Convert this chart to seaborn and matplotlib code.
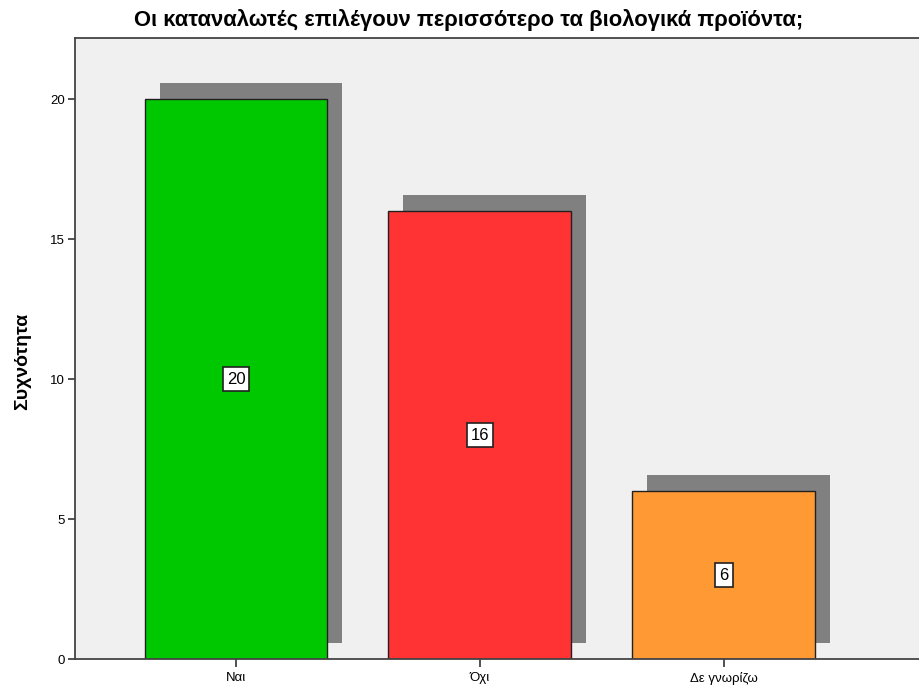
import matplotlib
matplotlib.use("Agg")
import matplotlib.pyplot as plt
import matplotlib.transforms as mtransforms
import seaborn as sns
import pandas as pd

categories = ["Ναι", "Όχι", "Δε γνωρίζω"]
counts = [20, 16, 6]
colors = ["#00C800", "#FF3333", "#FF9933"]
title = "Οι καταναλωτές επιλέγουν περισσότερο τα βιολογικά προϊόντα;"
ylabel = "Συχνότητα"
yticks = [0, 5, 10, 15, 20]

sns.set_theme(style="white")
plt.rcParams["font.family"] = ["Liberation Sans", "DejaVu Sans"]
plt.rcParams["text.color"] = "black"
plt.rcParams["xtick.color"] = "black"
plt.rcParams["ytick.color"] = "black"
plt.rcParams["axes.labelcolor"] = "black"

df = pd.DataFrame({"cat": categories, "n": counts})

fig = plt.figure(figsize=(9.19, 6.93), dpi=100)
ax = fig.add_axes([75 / 919, 34 / 693, 1 - 75 / 919, 621 / 693])
ax.set_facecolor("#F0F0F0")

# shadow bars
sns.barplot(data=df, x="cat", y="n", color="#808080", width=0.75,
            saturation=1, ax=ax, order=categories, errorbar=None)
shadow_patches = list(ax.patches)
offset = mtransforms.ScaledTranslation(15 / 100, 16 / 100, fig.dpi_scale_trans)
for p in shadow_patches:
    p.set_transform(ax.transData + offset)
    p.set_linewidth(0)
    p.set_zorder(1)

# main bars
sns.barplot(data=df, x="cat", y="n", hue="cat", palette=colors, width=0.75,
            saturation=1, ax=ax, order=categories, hue_order=categories,
            errorbar=None, legend=False, edgecolor="#202020", linewidth=1.0)
for p in ax.patches[len(shadow_patches):]:
    p.set_zorder(2)

for i, v in enumerate(counts):
    ax.text(i, v / 2, str(v), ha="center", va="center", fontsize=12, zorder=5,
            bbox=dict(boxstyle="square,pad=0.25", fc="white", ec="#202020", lw=1.2))

ax.set_xlim(-0.66, 2.80)
ax.set_ylim(0, 22.18)
ax.set_yticks(yticks)
ax.set_yticklabels([str(t) for t in yticks], fontsize=9.5)
ax.tick_params(axis="x", labelsize=9.5, length=6, width=1.2, color="#333333", direction="out", bottom=True)
ax.tick_params(axis="y", length=5, width=1.2, color="#333333", direction="out", left=True, pad=2)
ax.set_xlabel("")
ax.set_ylabel(ylabel, fontsize=14, fontweight="bold")
ax.yaxis.set_label_coords(-44 / 844, 0.48)
for s in ["left", "bottom", "top"]:
    ax.spines[s].set_visible(True)
    ax.spines[s].set_color("#444444")
    ax.spines[s].set_linewidth(1.3)
ax.spines["right"].set_visible(False)

fig.text(469 / 919, 1 - 20 / 693, title, ha="center", va="center",
         fontsize=15.8, fontweight="bold")

fig.savefig("out.png", dpi=100)
